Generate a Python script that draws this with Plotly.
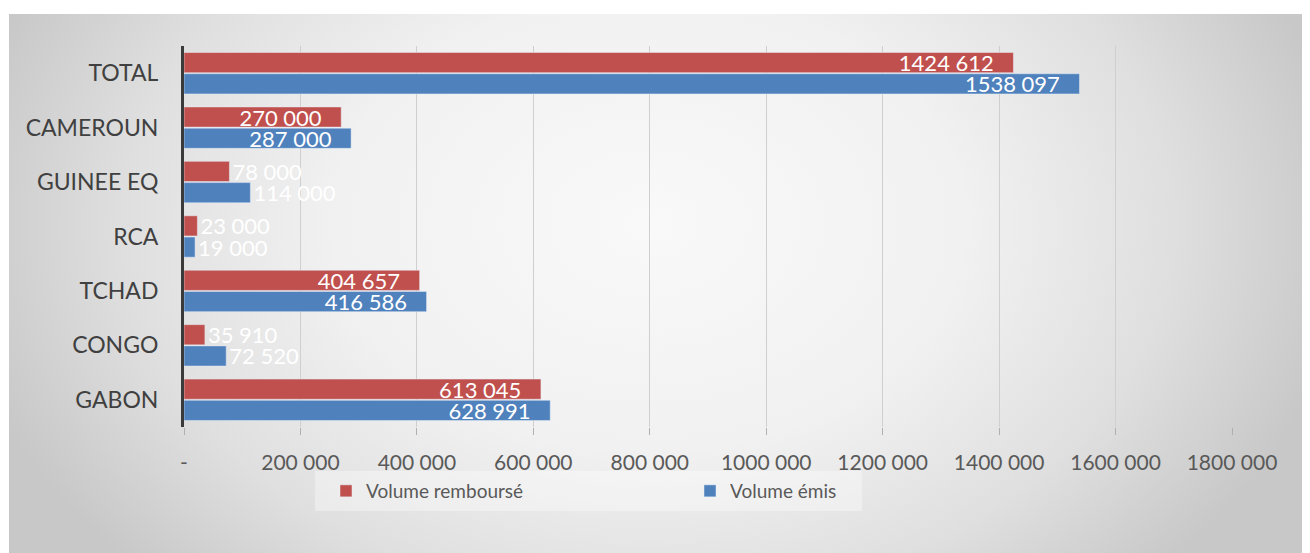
import base64
import plotly.graph_objects as go

categories = ["TOTAL", "CAMEROUN", "GUINEE EQ", "RCA", "TCHAD", "CONGO", "GABON"]
volume_rembourse = [1424612, 270000, 78000, 23000, 404657, 35910, 613045]
volume_emis = [1538097, 287000, 114000, 19000, 416586, 72520, 628991]

tick_vals = [0, 200000, 400000, 600000, 800000, 1000000, 1200000, 1400000, 1600000, 1800000]
tick_text = ["-", "200 000", "400 000", "600 000", "800 000", "1000 000",
             "1200 000", "1400 000", "1600 000", "1800 000"]

RED = "#C0504D"
BLUE = "#4F81BD"
FONT = "Lato"


def fmt(v):
    s = f"{v:,}".replace(",", " ")
    if v >= 1_000_000:
        s = s.replace(" ", "", 1)
    return s


def positions(vals):
    return ["inside" if v >= 150000 else "outside" for v in vals]


L, R, T, B = 176, 86, 38, 134
PW, PH = 1310 - L - R, 553 - T - B


def px_x(p):
    return (p - L) / PW


def px_y(p):
    return (553 - B - p) / PH


# radial gradient background panel (decoration)
svg = (
    '<svg xmlns="http://www.w3.org/2000/svg" width="1310" height="547">'
    '<defs><radialGradient id="g" gradientUnits="userSpaceOnUse" cx="640" cy="210" r="700" '
    'gradientTransform="translate(640 210) scale(1 0.72) translate(-640 -210)">'
    '<stop offset="0" stop-color="#f9f9f9"/>'
    '<stop offset="0.45" stop-color="#f1f1f1"/>'
    '<stop offset="0.75" stop-color="#dfdfdf"/>'
    '<stop offset="1" stop-color="#c8c8c8"/>'
    '</radialGradient></defs>'
    '<rect width="1310" height="547" fill="url(#g)"/></svg>'
)
bg_src = "data:image/svg+xml;base64," + base64.b64encode(svg.encode()).decode()

label_font = dict(color="white", size=22, family=FONT)
# inside-end labels sit a little away from the bar end, as in the reference
TEMPLATE = "%{text}\u2002\u00a0"

fig = go.Figure()
fig.add_trace(go.Bar(
    name="Volume remboursé", y=categories, x=volume_rembourse, orientation="h",
    marker=dict(color=RED), text=[fmt(v) for v in volume_rembourse],
    texttemplate=TEMPLATE,
    textposition=positions(volume_rembourse), insidetextanchor="end",
    textfont=label_font, outsidetextfont=label_font,
    constraintext="none", cliponaxis=False, legend="legend",
))
fig.add_trace(go.Bar(
    name="Volume émis", y=categories, x=volume_emis, orientation="h",
    marker=dict(color=BLUE), text=[fmt(v) for v in volume_emis],
    texttemplate=TEMPLATE,
    textposition=positions(volume_emis), insidetextanchor="end",
    textfont=label_font, outsidetextfont=label_font,
    constraintext="none", cliponaxis=False, legend="legend2",
))

legend_common = dict(
    orientation="h", yanchor="middle", y=px_y(483), xanchor="left",
    font=dict(size=19, color="#595959", family=FONT),
    bgcolor="rgba(0,0,0,0)",
)

fig.update_layout(
    width=1310, height=553,
    margin=dict(l=L, r=R, t=T, b=B),
    paper_bgcolor="white",
    plot_bgcolor="rgba(0,0,0,0)",
    barmode="group", bargap=0.22, bargroupgap=0.05,
    font=dict(family=FONT, color="#595959"),
    showlegend=True,
    legend=dict(x=px_x(318), **legend_common),
    legend2=dict(x=px_x(682), **legend_common),
    images=[dict(
        source=bg_src, xref="paper", yref="paper",
        x=px_x(1), y=px_y(6),
        sizex=1310 / PW, sizey=547 / PH,
        xanchor="left", yanchor="top", sizing="stretch", layer="below",
    )],
    shapes=[dict(
        type="rect", xref="paper", yref="paper",
        x0=px_x(307), x1=px_x(854), y0=px_y(463), y1=px_y(503),
        fillcolor="rgba(255,255,255,0.35)", line=dict(width=0), layer="below",
    )],
    xaxis=dict(
        range=[0, 1800000], tickvals=tick_vals, ticktext=tick_text,
        showgrid=True, gridcolor="#cfcfcf", gridwidth=1,
        zeroline=False, showline=False,
        ticks="outside", ticklen=7, tickcolor="#b0b0b0", tickwidth=1,
        tickfont=dict(size=21, color="#595959", family=FONT),
        ticklabelstandoff=10, fixedrange=True,
    ),
    yaxis=dict(
        categoryorder="array", categoryarray=categories, autorange="reversed",
        showgrid=False, zeroline=False,
        showline=True, linecolor="#3a3a3a", linewidth=3,
        ticks="", tickfont=dict(size=23, color="#404040", family=FONT),
        ticklabelstandoff=18, fixedrange=True,
    ),
)

fig.write_html("out.html")
